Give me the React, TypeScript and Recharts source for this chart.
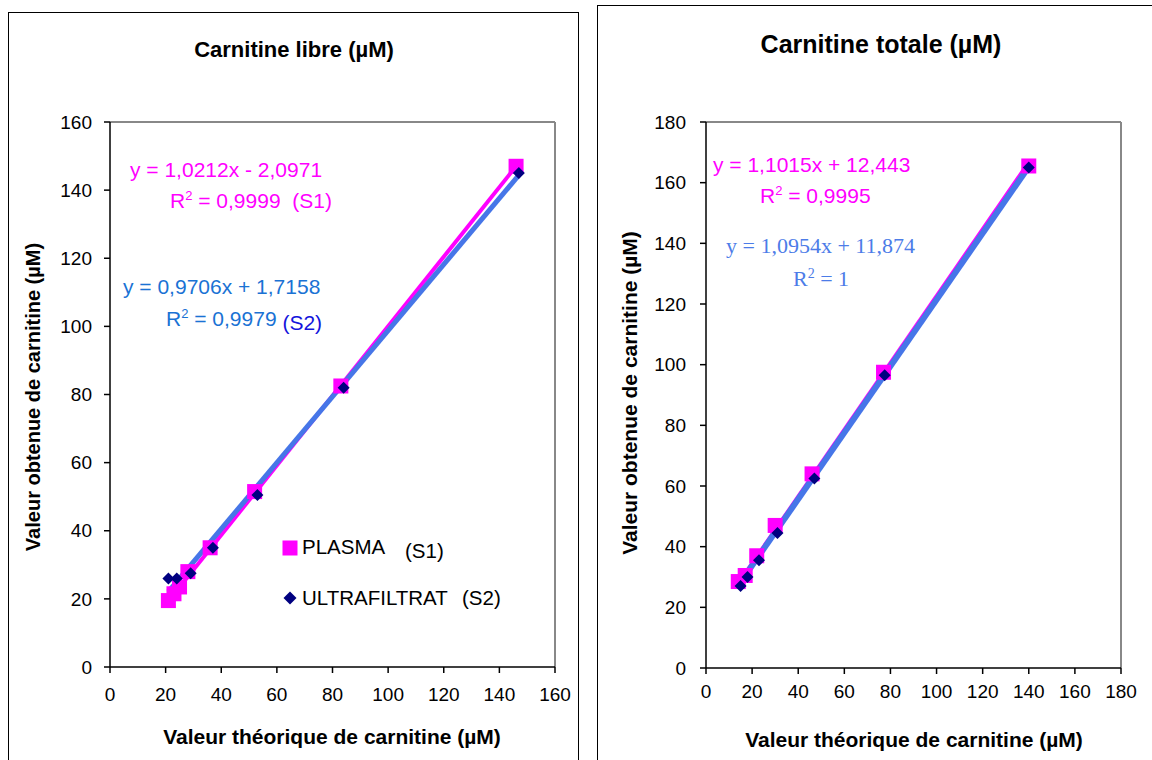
import React from 'react';
import { ScatterChart, Scatter, XAxis, YAxis, ReferenceLine } from 'recharts';

// ---- Left chart: Carnitine libre ----
const libreTicks = [0, 20, 40, 60, 80, 100, 120, 140, 160];
const librePlasmaX = [21, 23, 25, 28, 36, 52, 83, 146];
const librePlasmaY = [19.5, 21.5, 23.5, 28, 35, 51.5, 82.5, 147];
const libreUltraX = [21, 24, 29, 37, 53, 84, 147];
const libreUltraY = [26, 26, 27.5, 35, 50.5, 82, 145];
const libreTrendS1 = [1.0212, -2.0971];
const libreTrendS2 = [0.9706, 1.7158];
const libreTrendS1Range = [21, 146];
const libreTrendS2Range = [21, 147];

// ---- Right chart: Carnitine totale ----
const totaleTicks = [0, 20, 40, 60, 80, 100, 120, 140, 160, 180];
const totalePlasmaX = [14, 17, 22, 30, 46, 77, 140];
const totalePlasmaY = [28.5, 30.5, 37, 47, 64, 97.5, 165.5];
const totaleUltraX = [15, 18, 23, 31, 47, 77.5, 140];
const totaleUltraY = [27, 30, 35.5, 44.5, 62.5, 96.5, 165];
const totaleTrendS1 = [1.1015, 12.443];
const totaleTrendS2 = [1.0954, 11.874];
const totaleTrendS1Range = [14, 140];
const totaleTrendS2Range = [15, 140];

const FONT = '"Liberation Sans", Arial, Helvetica, sans-serif';
const SERIF = '"Liberation Serif", "Times New Roman", serif';
const PINK = '#FF00FF';
const NAVY = '#000080';
const TREND_BLUE = '#4676E8';
const EQ_BLUE = '#1A72D4';
const EQ_BLUE_R = '#4C7CE8';

const toPts = (xs: number[], ys: number[]) => xs.map((x, i) => ({ x, y: ys[i] }));
const seg = (coef: number[], range: number[]) =>
  range.map((x) => ({ x, y: coef[0] * x + coef[1] }));

const SquareShape = (props: any) => {
  const { cx, cy } = props;
  if (cx == null || cy == null) return <g />;
  return <rect x={cx - 7.5} y={cy - 7.5} width={15} height={15} fill={PINK} />;
};
const DiamondShape = (props: any) => {
  const { cx, cy } = props;
  if (cx == null || cy == null) return <g />;
  const r = 6;
  return (
    <polygon
      points={`${cx},${cy - r} ${cx + r},${cy} ${cx},${cy + r} ${cx - r},${cy}`}
      fill={NAVY}
    />
  );
};

const XTick = (p: any) => (
  <text x={p.x} y={p.y} textAnchor="middle" dy="0.71em" fontSize={19} fontFamily={FONT} fill="#000">
    {p.payload.value}
  </text>
);
const YTick = (p: any) => (
  <text x={p.x} y={p.y} textAnchor="end" dy="0.355em" fontSize={19} fontFamily={FONT} fill="#000">
    {p.payload.value}
  </text>
);

// left-anchored, vertically centred text
const TextAt = ({ x, y, children, style }: any) => (
  <div
    style={{
      position: 'absolute',
      left: x,
      top: y,
      transform: 'translateY(-50%)',
      whiteSpace: 'nowrap',
      fontFamily: FONT,
      lineHeight: 1.15,
      ...style,
    }}
  >
    {children}
  </div>
);

const Centered = ({ x, y, children, style, rotate }: any) => (
  <div
    style={{
      position: 'absolute',
      left: x,
      top: y,
      transform: `translate(-50%, -50%)${rotate ? ' rotate(-90deg)' : ''}`,
      whiteSpace: 'nowrap',
      fontFamily: FONT,
      lineHeight: 1.15,
      ...style,
    }}
  >
    {children}
  </div>
);

const sup = (fs: number) => ({ fontSize: fs, verticalAlign: 'super', lineHeight: 0 } as React.CSSProperties);

export default function App() {
  return (
    <div
      style={{
        position: 'absolute',
        left: 0,
        top: 0,
        width: 1152,
        height: 760,
        overflow: 'hidden',
        background: '#fff',
        fontFamily: FONT,
      }}
    >
      {/* Panel borders */}
      <div style={{ position: 'absolute', left: 8, top: 12, width: 569, height: 800, border: '1.5px solid #000' }} />
      <div style={{ position: 'absolute', left: 597, top: 5, width: 620, height: 800, border: '1.5px solid #000' }} />

      {/* Left chart */}
      <div style={{ position: 'absolute', left: 0, top: 0 }}>
        <ScatterChart width={580} height={760} margin={{ top: 122, right: 25, bottom: 53, left: 50 }}>
          <XAxis
            type="number"
            dataKey="x"
            domain={[0, 160]}
            ticks={libreTicks}
            interval={0}
            tick={XTick}
            tickSize={6}
            tickMargin={15}
            height={40}
            stroke="#000"
            strokeWidth={1.5}
          />
          <YAxis
            type="number"
            dataKey="y"
            domain={[0, 160]}
            ticks={libreTicks}
            interval={0}
            tick={YTick}
            tickSize={6}
            tickMargin={12}
            width={60}
            stroke="#000"
            strokeWidth={1.5}
          />
          <ReferenceLine y={160} stroke="#888" strokeWidth={2} />
          <ReferenceLine x={160} stroke="#888" strokeWidth={2} />
          <Scatter data={toPts(librePlasmaX, librePlasmaY)} shape={SquareShape} isAnimationActive={false} />
          <Scatter data={toPts(libreUltraX, libreUltraY)} shape={DiamondShape} isAnimationActive={false} />
          <ReferenceLine segment={seg(libreTrendS1, libreTrendS1Range)} stroke={PINK} strokeWidth={4} />
          <ReferenceLine segment={seg(libreTrendS2, libreTrendS2Range)} stroke={TREND_BLUE} strokeWidth={5} />
        </ScatterChart>
      </div>

      {/* Right chart */}
      <div style={{ position: 'absolute', left: 590, top: 0 }}>
        <ScatterChart width={562} height={760} margin={{ top: 122, right: 31, bottom: 52, left: 56 }}>
          <XAxis
            type="number"
            dataKey="x"
            domain={[0, 180]}
            ticks={totaleTicks}
            interval={0}
            tick={XTick}
            tickSize={6}
            tickMargin={11}
            height={40}
            stroke="#000"
            strokeWidth={1.5}
          />
          <YAxis
            type="number"
            dataKey="y"
            domain={[0, 180]}
            ticks={totaleTicks}
            interval={0}
            tick={YTick}
            tickSize={6}
            tickMargin={14}
            width={60}
            stroke="#000"
            strokeWidth={1.5}
          />
          <ReferenceLine y={180} stroke="#888" strokeWidth={2} />
          <ReferenceLine x={180} stroke="#888" strokeWidth={2} />
          <Scatter data={toPts(totalePlasmaX, totalePlasmaY)} shape={SquareShape} isAnimationActive={false} />
          <Scatter data={toPts(totaleUltraX, totaleUltraY)} shape={DiamondShape} isAnimationActive={false} />
          <ReferenceLine segment={seg(totaleTrendS1, totaleTrendS1Range)} stroke={PINK} strokeWidth={4} />
          <ReferenceLine segment={seg(totaleTrendS2, totaleTrendS2Range)} stroke={TREND_BLUE} strokeWidth={6} />
        </ScatterChart>
      </div>

      {/* Titles */}
      <Centered x={294} y={50} style={{ fontSize: 22, fontWeight: 'bold' }}>Carnitine libre (µM)</Centered>
      <Centered x={881} y={44} style={{ fontSize: 25, fontWeight: 'bold' }}>Carnitine totale (µM)</Centered>

      {/* Axis titles */}
      <Centered x={33} y={397} rotate style={{ fontSize: 20, fontWeight: 'bold' }}>
        Valeur obtenue de carnitine (µM)
      </Centered>
      <Centered x={630} y={393} rotate style={{ fontSize: 21, fontWeight: 'bold' }}>
        Valeur obtenue de carnitine (µM)
      </Centered>
      <Centered x={332} y={737} style={{ fontSize: 21, fontWeight: 'bold' }}>Valeur théorique de carnitine (µM)</Centered>
      <Centered x={914} y={740} style={{ fontSize: 21, fontWeight: 'bold' }}>Valeur théorique de carnitine (µM)</Centered>

      {/* Left equations */}
      <TextAt x={130} y={170} style={{ fontSize: 21, color: PINK }}>y = 1,0212x - 2,0971</TextAt>
      <TextAt x={170} y={201} style={{ fontSize: 21, color: PINK }}>
        R<span style={sup(13)}>2</span> = 0,9999&nbsp;&nbsp;(S1)
      </TextAt>
      <TextAt x={123} y={287} style={{ fontSize: 21, color: EQ_BLUE }}>y = 0,9706x + 1,7158</TextAt>
      <TextAt x={166} y={319} style={{ fontSize: 21, color: EQ_BLUE }}>
        R<span style={sup(13)}>2</span> = 0,9979 <span style={{ color: '#1414DC', position: 'relative', top: 4 }}>(S2)</span>
      </TextAt>

      {/* Right equations */}
      <TextAt x={713} y={165} style={{ fontSize: 21, color: PINK }}>y = 1,1015x + 12,443</TextAt>
      <TextAt x={760} y={196} style={{ fontSize: 21, color: PINK }}>
        R<span style={sup(13)}>2</span> = 0,9995
      </TextAt>
      <TextAt x={726} y={246} style={{ fontSize: 22, color: EQ_BLUE_R, fontFamily: SERIF }}>
        y = 1,0954x + 11,874
      </TextAt>
      <TextAt x={793} y={279} style={{ fontSize: 22, color: EQ_BLUE_R, fontFamily: SERIF }}>
        R<span style={sup(14)}>2</span> = 1
      </TextAt>

      {/* Legend */}
      <svg style={{ position: 'absolute', left: 282, top: 540 }} width={16} height={16}>
        <rect x={0.5} y={0.5} width={15} height={15} fill={PINK} />
      </svg>
      <TextAt x={302} y={547} style={{ fontSize: 20.5 }}>PLASMA</TextAt>
      <TextAt x={405} y={551} style={{ fontSize: 20.5 }}>(S1)</TextAt>
      <svg style={{ position: 'absolute', left: 283, top: 591 }} width={14} height={14}>
        <polygon points="7,0.5 13.5,7 7,13.5 0.5,7" fill={NAVY} />
      </svg>
      <TextAt x={302} y={598} style={{ fontSize: 20.5 }}>ULTRAFILTRAT</TextAt>
      <TextAt x={462} y={598} style={{ fontSize: 20.5 }}>(S2)</TextAt>
    </div>
  );
}
